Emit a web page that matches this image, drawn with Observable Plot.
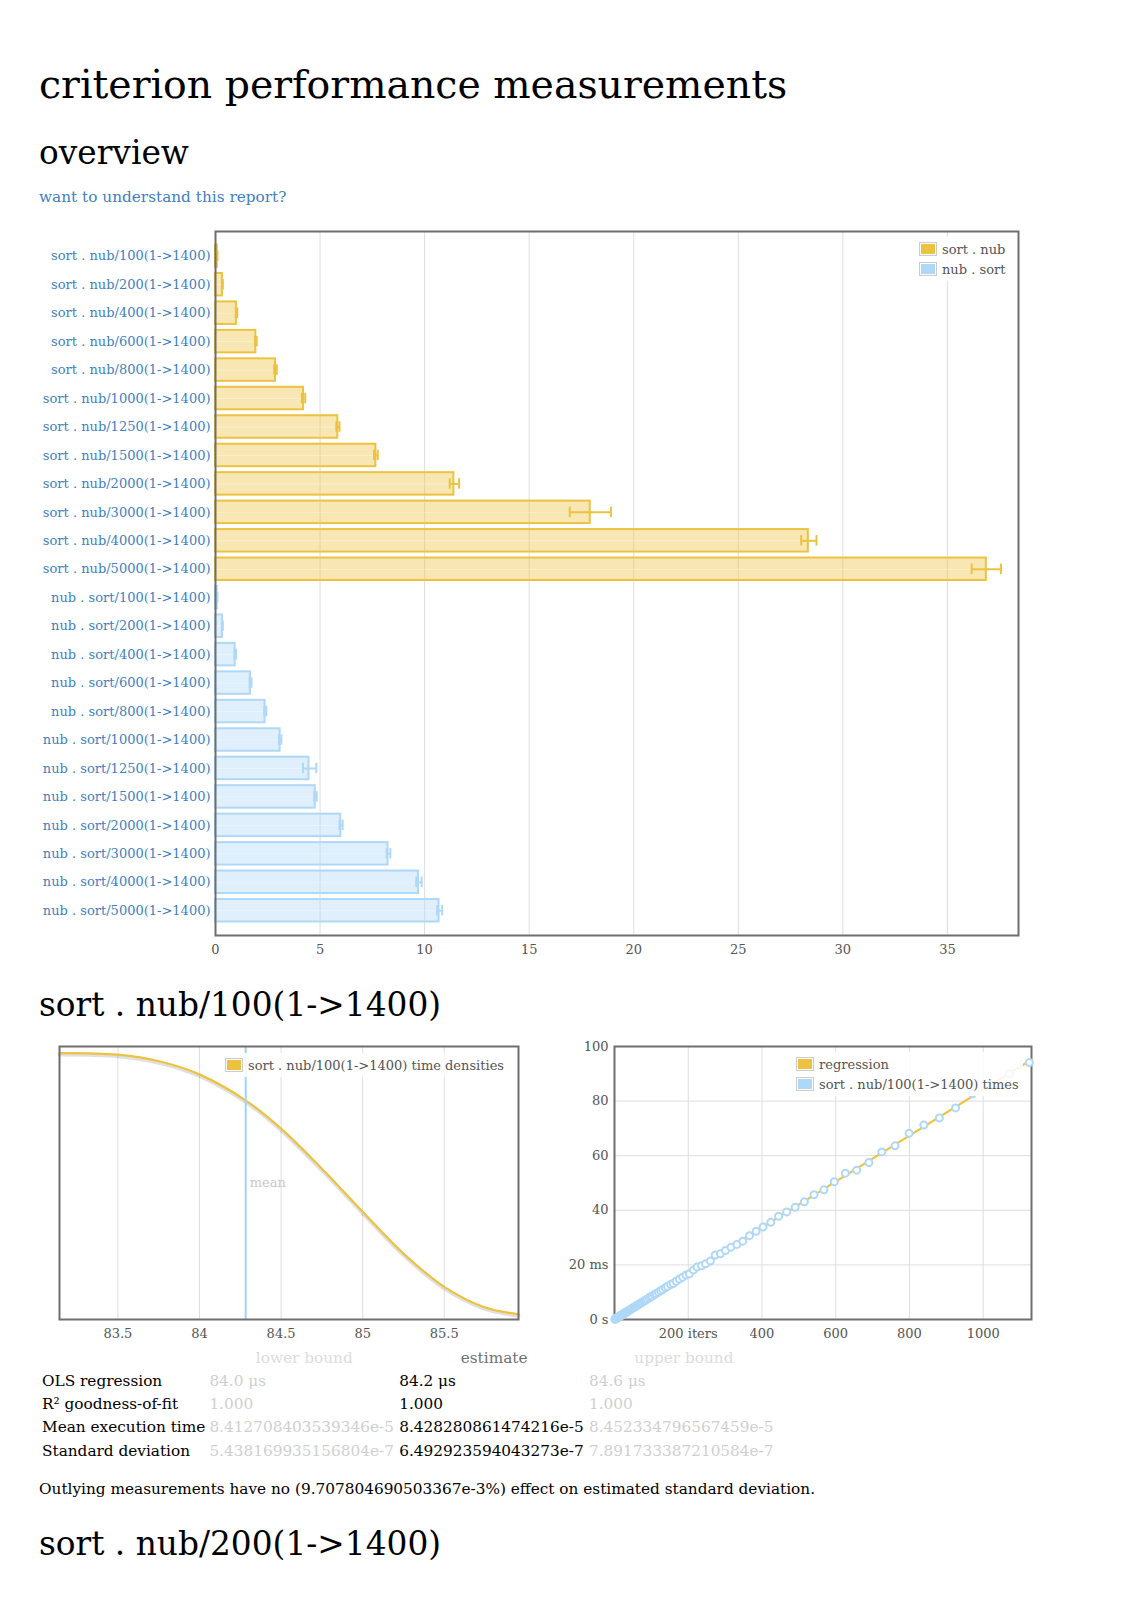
<!DOCTYPE html>
<html>
<head>
<meta charset="utf-8">
<script src="https://cdn.jsdelivr.net/npm/d3@7"></script>
<script src="https://cdn.jsdelivr.net/npm/@observablehq/plot@0.6"></script>
<style>
  html, body { margin: 0; padding: 0; background: #fff; }
  body { position: relative; width: 1131px; height: 1600px; overflow: hidden; font-family: "DejaVu Serif", serif; color: #000; }
  .abs { position: absolute; white-space: nowrap; }
  .h1 { font-size: 39.4px; line-height: 1; }
  .h2 { font-size: 32.8px; line-height: 1; }
  .link { font-size: 15.3px; line-height: 1; color: #3f7fbf; }
  .legend { position: absolute; background: rgba(255,255,255,0.85); font-size: 13px; color: #545454; padding: 2px 4px 2px 3px; }
  .legend .row { display: flex; align-items: center; height: 20px; }
  .legend .sw { border: 1px solid #ccc; padding: 1px; margin-right: 5px; }
  .legend .sw div { width: 14px; height: 10px; }
  .tbl { position: absolute; font-size: 15.3px; }
  .tbl .tr { display: flex; height: 23.3px; line-height: 23.3px; white-space: nowrap; }
  .tbl .c0 { width: 167.4px; }
  .tbl .c1, .tbl .c2, .tbl .c3 { width: 189.8px; }
  .tbl .th { text-align: center; }
  .faint { color: #cfcfcf; }
  .faint2 { color: #dcdcdc; }
  .mid { color: #707070; }
</style>
</head>
<body>
<div class="abs h1" style="left:39px; top:64.7px;">criterion performance measurements</div>
<div class="abs h2" style="left:39px; top:137.3px;">overview</div>
<div class="abs link" style="left:39px; top:190px;">want to understand this report?</div>

<div id="overview" class="abs" style="left:0; top:211px;"></div>
<div class="legend" style="left:916px; top:237px;">
  <div class="row"><div class="sw"><div style="background:#edc240"></div></div>sort . nub</div>
  <div class="row"><div class="sw"><div style="background:#afd8f8"></div></div>nub . sort</div>
</div>

<div class="abs h2" style="left:39px; top:989px;">sort . nub/100(1-&gt;1400)</div>

<div id="density" class="abs" style="left:0; top:1036px;"></div>
<div class="legend" style="left:222px; top:1053px;">
  <div class="row"><div class="sw"><div style="background:#edc240"></div></div>sort . nub/100(1-&gt;1400) time densities</div>
</div>

<div id="regression" class="abs" style="left:560px; top:1036px;"></div>
<div class="legend" style="left:793px; top:1052px;">
  <div class="row"><div class="sw"><div style="background:#edc240"></div></div>regression</div>
  <div class="row"><div class="sw"><div style="background:#afd8f8"></div></div>sort . nub/100(1-&gt;1400) times</div>
</div>

<div class="tbl" style="left:42px; top:1346.5px;">
  <div class="tr"><div class="c0"></div><div class="c1 th faint2">lower bound</div><div class="c2 th mid">estimate</div><div class="c3 th faint2">upper bound</div></div>
  <div class="tr"><div class="c0">OLS regression</div><div class="c1 faint">84.0 μs</div><div class="c2">84.2 μs</div><div class="c3 faint">84.6 μs</div></div>
  <div class="tr"><div class="c0">R² goodness-of-fit</div><div class="c1 faint">1.000</div><div class="c2">1.000</div><div class="c3 faint">1.000</div></div>
  <div class="tr"><div class="c0">Mean execution time</div><div class="c1 faint">8.412708403539346e-5</div><div class="c2">8.428280861474216e-5</div><div class="c3 faint">8.452334796567459e-5</div></div>
  <div class="tr"><div class="c0">Standard deviation</div><div class="c1 faint">5.438169935156804e-7</div><div class="c2">6.492923594043273e-7</div><div class="c3 faint">7.891733387210584e-7</div></div>
</div>
<div class="abs" style="left:39px; top:1478.5px; font-size:15.3px; line-height:20px;">Outlying measurements have no (9.707804690503367e-3%) effect on estimated standard deviation.</div>

<div class="abs h2" style="left:39px; top:1528.3px;">sort . nub/200(1-&gt;1400)</div>

<script>
// ---------- overview data (ms) ----------
const sortNubLabels = ["sort . nub/100(1->1400)","sort . nub/200(1->1400)","sort . nub/400(1->1400)","sort . nub/600(1->1400)","sort . nub/800(1->1400)","sort . nub/1000(1->1400)","sort . nub/1250(1->1400)","sort . nub/1500(1->1400)","sort . nub/2000(1->1400)","sort . nub/3000(1->1400)","sort . nub/4000(1->1400)","sort . nub/5000(1->1400)"];
const sortNubMean = [0.084, 0.33, 1.0, 1.93, 2.87, 4.21, 5.85, 7.67, 11.4, 17.92, 28.35, 36.86];
const sortNubLow  = [0.084, 0.32, 0.97, 1.89, 2.81, 4.13, 5.78, 7.58, 11.2, 16.94, 28.01, 36.16];
const sortNubHigh = [0.085, 0.35, 1.04, 1.97, 2.93, 4.29, 5.93, 7.76, 11.65, 18.91, 28.74, 37.56];

const nubSortLabels = ["nub . sort/100(1->1400)","nub . sort/200(1->1400)","nub . sort/400(1->1400)","nub . sort/600(1->1400)","nub . sort/800(1->1400)","nub . sort/1000(1->1400)","nub . sort/1250(1->1400)","nub . sort/1500(1->1400)","nub . sort/2000(1->1400)","nub . sort/3000(1->1400)","nub . sort/4000(1->1400)","nub . sort/5000(1->1400)"];
const nubSortMean = [0.08, 0.33, 0.94, 1.67, 2.37, 3.09, 4.47, 4.77, 5.99, 8.25, 9.71, 10.69];
const nubSortLow  = [0.075, 0.31, 0.91, 1.63, 2.33, 3.04, 4.18, 4.72, 5.93, 8.18, 9.6, 10.6];
const nubSortHigh = [0.09, 0.35, 0.98, 1.72, 2.43, 3.15, 4.82, 4.84, 6.08, 8.36, 9.86, 10.84];

const overviewTicks = [0, 5, 10, 15, 20, 25, 30, 35];

// ---------- density data (µs, relative density) ----------
const densityX = [83.142, 83.5, 83.759, 84.002, 84.284, 84.5, 84.76, 85.001, 85.25, 85.5, 85.741, 85.955];
const densityY = [0.976, 0.970, 0.945, 0.897, 0.802, 0.699, 0.546, 0.394, 0.2415, 0.1195, 0.046, 0.019];
const densityTicks = [83.5, 84, 84.5, 85, 85.5];
const meanEstimate = 84.283;

// ---------- regression data (iterations, ms) ----------
const iters = [1,2,3,4,5,6,7,8,9,10,11,12,13,14,15,16,17,18,19,20,21,22,23,25,26,27,29,30,31,33,35,36,38,40,42,44,47,49,52,54,57,60,63,66,69,73,76,80,84,88,93,98,102,108,113,119,125,131,138,144,152,159,167,176,185,194,203,214,224,236,247,260,273,287,301,316,332,348,366,384,403,424,445,467,490,515,541,568,596,626,657,690,725,761,799,839,881,925,971,1020,1071,1125];
const timesMs = [0.08,0.17,0.25,0.34,0.42,0.51,0.59,0.67,0.76,0.84,0.93,1.01,1.10,1.18,1.26,1.35,1.43,1.52,1.60,1.69,1.77,1.85,1.94,2.11,2.19,2.28,2.44,2.53,2.61,2.78,2.95,3.03,3.20,3.37,3.54,3.71,3.96,4.13,4.38,4.55,4.80,5.05,5.31,5.56,5.81,6.15,6.40,6.74,7.07,7.41,7.83,8.25,8.59,9.09,9.51,10.02,10.53,11.03,11.62,12.12,12.80,13.2,14.0,14.8,15.5,16.3,16.7,18.1,19.2,19.7,20.4,21.4,23.6,24.1,25.3,26.5,27.5,28.7,30.7,32.3,33.9,35.6,37.8,39.4,41.1,43.1,45.7,47.5,50.5,53.6,54.7,57.5,61.4,63.6,68.2,71.2,73.8,77.5,82.7,86.0,90.0,94.1];
const regressionX = [0, 1131];
const regressionY = [0, 95.2];
const regXTicks = [200, 400, 600, 800, 1000];
const regXLabels = ["200 iters", "400", "600", "800", "1000"];
const regYTicks = [0, 20, 40, 60, 80, 100];
const regYLabels = ["0 s", "20 ms", "40", "60", "80", "100"];

const gold = "#edc240", blue = "#afd8f8";
const gridColor = "#dedede", frameColor = "#6e6e6e", tickColor = "#545454";
const chartStyle = {fontFamily: "DejaVu Serif", fontSize: "13px", background: "transparent", overflow: "visible"};

// ---------- overview ----------
const rows = [
  ...sortNubLabels.map((name, i) => ({name, c: gold, mean: sortNubMean[i], lo: sortNubLow[i], hi: sortNubHigh[i]})),
  ...nubSortLabels.map((name, i) => ({name, c: blue, mean: nubSortMean[i], lo: nubSortLow[i], hi: nubSortHigh[i]}))
];

const overview = Plot.plot({
  width: 1040, height: 754,
  marginLeft: 215, marginRight: 22, marginTop: 20, marginBottom: 30,
  style: chartStyle,
  color: {type: "identity"},
  x: {domain: [0, 38.4]},
  y: {domain: rows.map(d => d.name), paddingInner: 0.21, paddingOuter: 0.475, round: false},
  marks: [
    Plot.gridX(overviewTicks.slice(1), {stroke: gridColor, strokeOpacity: 1}),
    Plot.barX(rows, {x: "mean", y: "name", fill: "c", fillOpacity: 0.4, stroke: "c", strokeWidth: 2}),
    Plot.ruleY(rows, {x1: 0, x2: "mean", y: "name", stroke: "#fff", strokeOpacity: 0.35}),
    Plot.ruleY(rows, {x1: "lo", x2: "hi", y: "name", stroke: "c", strokeWidth: 2}),
    Plot.tickX(rows, {x: "lo", y: "name", stroke: "c", strokeWidth: 2, insetTop: 6, insetBottom: 6}),
    Plot.tickX(rows, {x: "hi", y: "name", stroke: "c", strokeWidth: 2, insetTop: 6, insetBottom: 6}),
    Plot.frame({stroke: frameColor, strokeWidth: 2}),
    Plot.axisX({ticks: overviewTicks, tickSize: 0, tickPadding: 9.5, label: null, fill: tickColor, tickFormat: d => String(d)}),
    Plot.axisY({tickSize: 0, tickPadding: 5, label: null, fill: "#3f7fbf"})
  ]
});
document.getElementById("overview").append(overview);

// ---------- density ----------
const densityPts = densityX.map((x, i) => ({x, y: densityY[i]}));
const density = Plot.plot({
  width: 530, height: 313,
  marginLeft: 59, marginRight: 12, marginTop: 10, marginBottom: 30,
  style: chartStyle,
  x: {domain: [83.142, 85.955]},
  y: {domain: [0, 1], axis: null},
  marks: [
    Plot.gridX(densityTicks, {stroke: gridColor, strokeOpacity: 1}),
    Plot.line(densityPts, {x: "x", y: "y", stroke: "#000", strokeOpacity: 0.12, strokeWidth: 4, dy: 1.5, curve: "catmull-rom"}),
    Plot.line(densityPts, {x: "x", y: "y", stroke: gold, strokeWidth: 2.2, curve: "catmull-rom"}),
    Plot.ruleX([meanEstimate], {stroke: "#9ed3f5", strokeWidth: 2}),
    Plot.text([meanEstimate], {x: d => d, text: () => "mean", frameAnchor: "middle", textAnchor: "start", dx: 4, fill: "#c8c8c8", fontSize: 13}),
    Plot.frame({stroke: frameColor, strokeWidth: 2}),
    Plot.axisX({ticks: densityTicks, tickSize: 0, tickPadding: 9.5, label: null, fill: tickColor, tickFormat: d => String(d)})
  ]
});
document.getElementById("density").append(density);

// ---------- regression ----------
const points = iters.map((x, i) => ({x, y: timesMs[i]}));
const regLine = regressionX.map((x, i) => ({x, y: regressionY[i]}));
const regression = Plot.plot({
  width: 490, height: 313,
  marginLeft: 54, marginRight: 19, marginTop: 10, marginBottom: 30,
  style: chartStyle,
  x: {domain: [0, 1131]},
  y: {domain: [0, 100]},
  marks: [
    Plot.gridX(regXTicks, {stroke: gridColor, strokeOpacity: 1}),
    Plot.gridY(regYTicks.slice(1), {stroke: gridColor, strokeOpacity: 1}),
    Plot.frame({stroke: frameColor, strokeWidth: 2}),
    Plot.line(regLine, {x: "x", y: "y", stroke: gold, strokeWidth: 2.2}),
    Plot.dot(points, {x: "x", y: "y", r: 3.5, stroke: blue, strokeWidth: 2, fill: "#fff"}),
    Plot.axisX({ticks: regXTicks, tickSize: 0, tickPadding: 9.5, label: null, fill: tickColor, tickFormat: d => regXLabels[regXTicks.indexOf(d)]}),
    Plot.axisY({ticks: regYTicks, tickSize: 0, tickPadding: 6, label: null, fill: tickColor, tickFormat: d => regYLabels[regYTicks.indexOf(d)]})
  ]
});
document.getElementById("regression").append(regression);
</script>
</body>
</html>
